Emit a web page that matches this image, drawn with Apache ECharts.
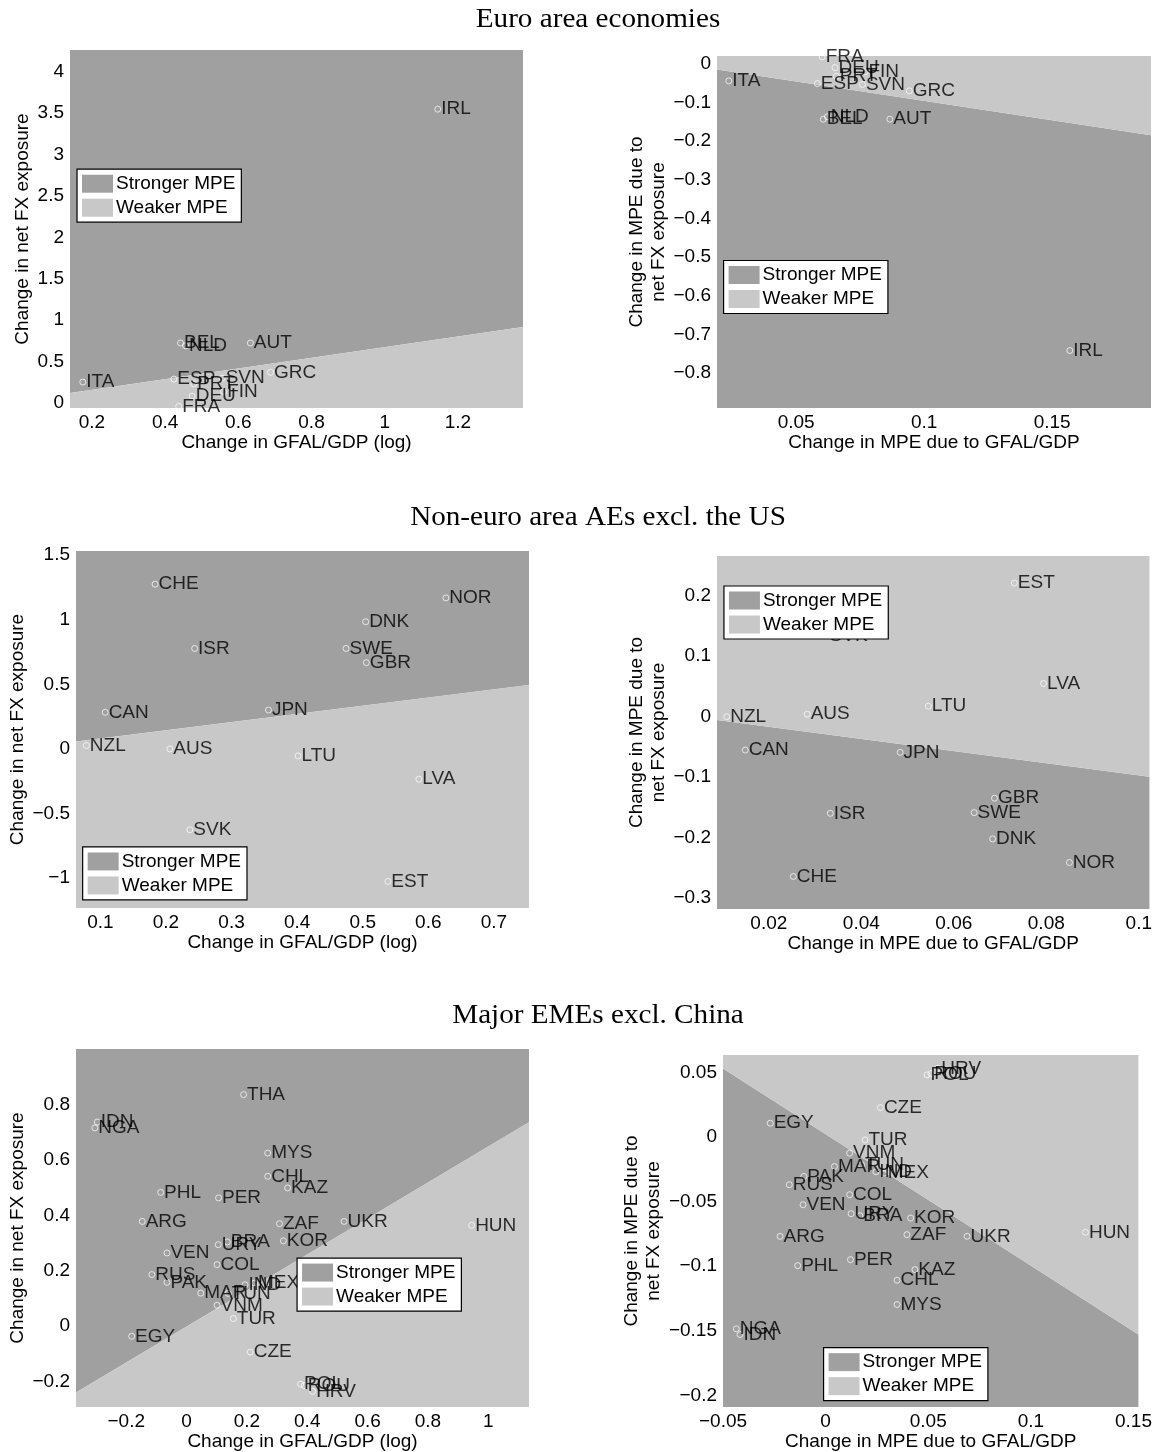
<!DOCTYPE html>
<html>
<head>
<meta charset="utf-8">
<script src="https://cdn.jsdelivr.net/npm/echarts@6/dist/echarts.min.js"></script>
<style>
  html, body { margin: 0; padding: 0; background: #fff; }
  #chart { width: 1155px; height: 1452px; }
</style>
</head>
<body>
<div id="chart"></div>
<script>
// ---- Euro area economies ----
const euroCodes = ['ITA', 'IRL', 'BEL', 'NLD', 'AUT', 'ESP', 'SVN', 'GRC', 'PRT', 'DEU', 'FIN', 'FRA'];
const euroGfal = [0.175, 1.145, 0.442, 0.456, 0.633, 0.424, 0.556, 0.688, 0.478, 0.474, 0.560, 0.437];
const euroFx = [0.253, 3.546, 0.724, 0.69, 0.724, 0.289, 0.30, 0.371, 0.232, 0.084, 0.138, -0.04];
const euroMpeGfal = [0.0237, 0.1569, 0.0606, 0.0622, 0.0866, 0.0583, 0.0759, 0.0942, 0.0657, 0.0652, 0.0769, 0.0602];
const euroMpeFx = [-0.0447, -0.7415, -0.1437, -0.1376, -0.1437, -0.0516, -0.054, -0.0705, -0.0327, -0.0103, -0.0215, 0.0172];
// boundary between stronger / weaker MPE: y at the left and right axis limits
const euroLevelSplit = [0.12, 0.917];
const euroMpeSplit = [-0.0155, -0.185];

// ---- Non-euro area AEs excl. the US ----
const aeCodes = ['CHE', 'NOR', 'DNK', 'ISR', 'SWE', 'GBR', 'CAN', 'JPN', 'NZL', 'AUS', 'LTU', 'LVA', 'SVK', 'EST'];
const aeGfal = [0.1834, 0.6268, 0.5045, 0.2437, 0.4746, 0.5056, 0.1073, 0.3563, 0.0786, 0.2059, 0.4014, 0.5856, 0.2364, 0.5383];
const aeFx = [1.276, 1.170, 0.985, 0.778, 0.778, 0.668, 0.2835, 0.3015, 0.026, 0.0, -0.054, -0.2345, -0.626, -1.026];
const aeMpeGfal = [0.0253, 0.085, 0.0684, 0.0333, 0.0644, 0.0688, 0.0149, 0.0484, 0.0109, 0.0283, 0.0545, 0.0794, 0.0324, 0.0731];
const aeMpeFx = [-0.2643, -0.2412, -0.2022, -0.16, -0.1588, -0.135, -0.0555, -0.0593, -0.0005, 0.0038, 0.017, 0.0544, 0.134, 0.2203];
const aeLevelSplit = [0.0567, 0.495];
const aeMpeSplit = [-0.006, -0.0995];

// ---- Major EMEs excl. China ----
const emeCodes = ['THA', 'IDN', 'NGA', 'MYS', 'CHL', 'KAZ', 'PHL', 'PER', 'ARG', 'ZAF', 'UKR', 'HUN', 'KOR', 'URY', 'BRA',
  'VEN', 'COL', 'RUS', 'PAK', 'MAR', 'TUN', 'IND', 'MEX', 'VNM', 'TUR', 'EGY', 'CZE', 'POL', 'ROU', 'HRV'];
const emeGfal = [0.189, -0.296, -0.304, 0.269, 0.269, 0.335, -0.086, 0.106, -0.147, 0.308, 0.522, 0.945, 0.321, 0.105, 0.135,
  -0.065, 0.101, -0.115, -0.065, 0.047, 0.138, 0.194, 0.225, 0.101, 0.155, -0.182, 0.211, 0.378, 0.39, 0.418];
const emeFx = [0.836, 0.737, 0.716, 0.625, 0.541, 0.499, 0.483, 0.463, 0.378, 0.370, 0.378, 0.364, 0.308, 0.294, 0.304,
  0.264, 0.222, 0.186, 0.158, 0.119, 0.118, 0.149, 0.155, 0.075, 0.027, -0.037, -0.094, -0.210, -0.215, -0.236];
const emeMpeGfal = [0.0241, -0.0417, -0.0435, 0.0348, 0.0348, 0.0435, -0.0136, 0.0121, -0.0222, 0.0396, 0.0689, 0.1266, 0.0414, 0.0124, 0.0167,
  -0.011, 0.0117, -0.0177, -0.0106, 0.0043, 0.0175, 0.0245, 0.0286, 0.0117, 0.0192, -0.027, 0.0267, 0.0494, 0.0513, 0.0547];
const emeMpeFx = [-0.174, -0.1529, -0.1485, -0.1297, -0.1109, -0.1027, -0.0996, -0.095, -0.0769, -0.0756, -0.0769, -0.0738, -0.0628, -0.0594, -0.061,
  -0.0525, -0.0447, -0.037, -0.0306, -0.0229, -0.0215, -0.027, -0.028, -0.0126, -0.0023, 0.0106, 0.0227, 0.048, 0.049, 0.0531];
const emeLevelSplit = [-0.24, 0.736];
const emeMpeSplit = [0.053, -0.1529];

// tick labels
const euroLevelXTicks = [0.2, 0.4, 0.6, 0.8, 1, 1.2];
const euroLevelYTicks = [0, 0.5, 1, 1.5, 2, 2.5, 3, 3.5, 4];
const euroMpeXTicks = [0.05, 0.1, 0.15];
const euroMpeYTicks = [-0.8, -0.7, -0.6, -0.5, -0.4, -0.3, -0.2, -0.1, 0];
const aeLevelXTicks = [0.1, 0.2, 0.3, 0.4, 0.5, 0.6, 0.7];
const aeLevelYTicks = [-1, -0.5, 0, 0.5, 1, 1.5];
const aeMpeXTicks = [0.02, 0.04, 0.06, 0.08, 0.1];
const aeMpeYTicks = [-0.3, -0.2, -0.1, 0, 0.1, 0.2];
const emeLevelXTicks = [-0.2, 0, 0.2, 0.4, 0.6, 0.8, 1];
const emeLevelYTicks = [-0.2, 0, 0.2, 0.4, 0.6, 0.8];
const emeMpeXTicks = [-0.05, 0, 0.05, 0.1, 0.15];
const emeMpeYTicks = [-0.2, -0.15, -0.1, -0.05, 0, 0.05];

const titles = ['Euro area economies', 'Non-euro area AEs excl. the US', 'Major EMEs excl. China'];
const levelXName = 'Change in GFAL/GDP (log)';
const levelYName = 'Change in net FX exposure';
const mpeXName = 'Change in MPE due to GFAL/GDP';
const mpeYName = 'Change in MPE due to\nnet FX exposure';

const dark = '#a0a0a0';
const light = '#c8c8c8';
const sans = '"Liberation Sans", Arial, sans-serif';
const fs = 19;

// layout of the six panels: box = [left, top, width, height]
const panels = [
  { box: [70, 50, 453, 358], xr: [0.14, 1.378], yr: [-0.06, 4.26], xt: euroLevelXTicks, yt: euroLevelYTicks,
    split: euroLevelSplit, strongAbove: true, codes: euroCodes, xs: euroGfal, ys: euroFx,
    xName: levelXName, yName: levelYName, yGap: 35, leg: [0.0155, 0.333] },
  { box: [717, 56, 434, 352], xr: [0.0191, 0.1886], yr: [-0.89, 0.0196], xt: euroMpeXTicks, yt: euroMpeYTicks,
    split: euroMpeSplit, strongAbove: false, codes: euroCodes, xs: euroMpeGfal, ys: euroMpeFx,
    xName: mpeXName, yName: mpeYName, yGap: 47, leg: [0.0152, 0.581] },
  { box: [76, 551, 453, 357], xr: [0.0628, 0.7535], yr: [-1.232, 1.533], xt: aeLevelXTicks, yt: aeLevelYTicks,
    split: aeLevelSplit, strongAbove: true, codes: aeCodes, xs: aeGfal, ys: aeFx,
    xName: levelXName, yName: levelYName, yGap: 46, leg: [0.0147, 0.829] },
  { box: [717, 556, 434, 353], xr: [0.0088, 0.1023], yr: [-0.318, 0.265], xt: aeMpeXTicks, yt: aeMpeYTicks,
    split: aeMpeSplit, strongAbove: false, codes: aeCodes, xs: aeMpeGfal, ys: aeMpeFx,
    xName: mpeXName, yName: mpeYName, yGap: 46, leg: [0.016, 0.085] },
  { box: [76, 1049, 453, 358], xr: [-0.3665, 1.135], yr: [-0.2925, 1.001], xt: emeLevelXTicks, yt: emeLevelYTicks,
    split: emeLevelSplit, strongAbove: true, codes: emeCodes, xs: emeGfal, ys: emeFx,
    xName: levelXName, yName: levelYName, yGap: 46, leg: [0.488, 0.584] },
  { box: [723, 1055, 428, 353], xr: [-0.05, 0.1524], yr: [-0.209, 0.0634], xt: emeMpeXTicks, yt: emeMpeYTicks,
    split: emeMpeSplit, strongAbove: false, codes: emeCodes, xs: emeMpeGfal, ys: emeMpeFx,
    xName: mpeXName, yName: mpeYName, yGap: 53, leg: [0.235, 0.829] }
];

function fmt(v) {
  const s = String(Math.round(Math.abs(v) * 10000) / 10000);
  return (v < -1e-9 ? '\u2212' : '') + s;
}

function region(name, color, idx, pts) {
  return {
    type: 'custom', name: name, xAxisIndex: idx, yAxisIndex: idx,
    silent: true, z: 1, clip: true,
    itemStyle: { color: color },
    data: [[pts[0][0], pts[0][1]]],
    renderItem: function (params, api) {
      return {
        type: 'polygon',
        shape: { points: pts.map(function (p) { return api.coord(p); }) },
        style: { fill: color }
      };
    }
  };
}

const chart = echarts.init(document.getElementById('chart'));
const grids = [], xAxes = [], yAxes = [], series = [], legends = [];

panels.forEach(function (p, i) {
  const [left, top, width, height] = p.box;
  grids.push({ left: left, top: top, width: width, height: height });

  xAxes.push({
    type: 'value', gridIndex: i, min: p.xr[0], max: p.xr[1],
    name: p.xName, nameLocation: 'middle', nameGap: 25,
    nameTextStyle: { fontSize: fs, fontFamily: sans, color: '#000' },
    axisLine: { show: false }, axisTick: { show: false }, splitLine: { show: false },
    axisLabel: { customValues: p.xt, formatter: fmt, fontSize: fs, fontFamily: sans, color: '#000', margin: 5 }
  });
  yAxes.push({
    type: 'value', gridIndex: i, min: p.yr[0], max: p.yr[1],
    name: p.yName, nameLocation: 'middle', nameGap: p.yGap, nameRotate: 90,
    nameTextStyle: { fontSize: fs, fontFamily: sans, color: '#000', lineHeight: 22 },
    axisLine: { show: false }, axisTick: { show: false }, splitLine: { show: false },
    axisLabel: { customValues: p.yt, formatter: fmt, fontSize: fs, fontFamily: sans, color: '#000', margin: 6 }
  });

  // shaded halves of the plot, split by the boundary line
  const L = [p.xr[0], p.split[0]];
  const R = [p.xr[1], p.split[1]];
  const above = [L, R, [p.xr[1], p.yr[1]], [p.xr[0], p.yr[1]]];
  const below = [L, R, [p.xr[1], p.yr[0]], [p.xr[0], p.yr[0]]];
  series.push(region('Stronger MPE', dark, i, p.strongAbove ? above : below));
  series.push(region('Weaker MPE', light, i, p.strongAbove ? below : above));

  // countries
  series.push({
    type: 'scatter', xAxisIndex: i, yAxisIndex: i, z: 3, silent: true,
    symbol: 'circle', symbolSize: 6,
    itemStyle: { color: 'rgba(0,0,0,0)', borderColor: '#fff', borderWidth: 0.9 },
    label: {
      show: true, position: 'right', distance: 0,
      formatter: function (d) { return d.data[2]; },
      fontSize: fs, fontFamily: sans, color: '#000'
    },
    data: p.codes.map(function (c, k) { return [p.xs[k], p.ys[k], c]; })
  });

  legends.push({
    orient: 'vertical', selectedMode: false, z: 10,
    left: left + p.leg[0] * width, top: top + p.leg[1] * height,
    backgroundColor: '#fff', borderColor: '#000', borderWidth: 1.2,
    padding: [5, 6, 5, 5], itemGap: 5, itemWidth: 31, itemHeight: 18,
    textStyle: { fontSize: fs, fontFamily: sans, color: '#000', padding: [0, 0, 0, -2] },
    data: [
      { name: 'Stronger MPE', icon: 'rect', itemStyle: { color: dark } },
      { name: 'Weaker MPE', icon: 'rect', itemStyle: { color: light } }
    ]
  });
});

const titleY = [20, 518, 1016];
const graphics = titles.map(function (t, k) {
  return {
    type: 'text', x: 598, y: titleY[k], scaleX: 1.08,
    style: { text: t, font: '27px "Liberation Serif", serif', fill: '#000', textAlign: 'center', textVerticalAlign: 'middle' }
  };
});

chart.setOption({
  animation: false,
  backgroundColor: '#fff',
  grid: grids,
  xAxis: xAxes,
  yAxis: yAxes,
  legend: legends,
  graphic: graphics,
  series: series
});
</script>
</body>
</html>
